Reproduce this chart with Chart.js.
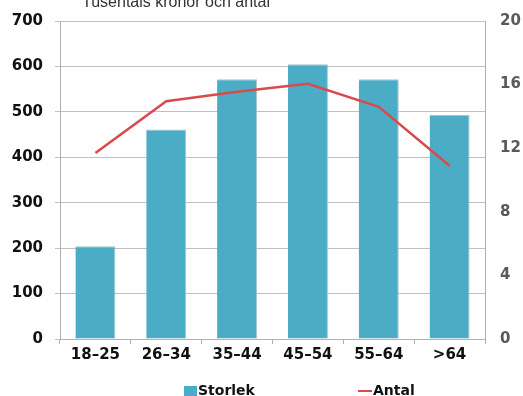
<!DOCTYPE html>
<html>
<head>
<meta charset="utf-8">
<script src="https://cdn.jsdelivr.net/npm/chart.js@4/dist/chart.umd.min.js"></script>
<style>
html,body{margin:0;padding:0;background:#fff;}
#wrap{width:523px;height:396px;position:relative;}
</style>
</head>
<body>
<div id="wrap"><canvas id="c" width="523" height="396"></canvas></div>
<script>
const categories = ["18–25", "26–34", "35–44", "45–54", "55–64", ">64"];
const storlek = [204, 461, 572, 605, 572, 493];
const antal = [11.7, 14.95, 15.55, 16.05, 14.6, 10.9];
const leftTicks = [0, 100, 200, 300, 400, 500, 600, 700];
const rightTicks = [0, 4, 8, 12, 16, 20];
const titleText = "Tusentals kronor och antal";

const FONT = "'DejaVu Sans', sans-serif";

const overlay = {
  id: 'overlay',
  afterDraw(chart) {
    const ctx = chart.ctx;
    ctx.save();
    ctx.fillStyle = '#333';
    ctx.font = "16px 'Liberation Sans', Arial, sans-serif";
    ctx.textAlign = 'left';
    ctx.textBaseline = 'alphabetic';
    ctx.fillText(titleText, 82, 7);
    // legend
    const ds = chart.data.datasets;
    const bar = ds.find(d => d.type === 'bar');
    const line = ds.find(d => d.type === 'line');
    ctx.font = "bold 14px " + FONT;
    ctx.textBaseline = 'middle';
    const ly = 391;
    ctx.fillStyle = bar.backgroundColor;
    ctx.fillRect(184, 386, 13, 13);
    ctx.fillStyle = '#111';
    ctx.fillText(bar.label, 198, ly);
    ctx.strokeStyle = line.borderColor;
    ctx.lineWidth = 2;
    ctx.beginPath();
    ctx.moveTo(358, ly);
    ctx.lineTo(372, ly);
    ctx.stroke();
    ctx.fillStyle = '#111';
    ctx.fillText(line.label, 373, ly);
    ctx.restore();
  }
};

function noPad(s) { s.paddingTop = 0; s.paddingBottom = 0; }

new Chart(document.getElementById('c'), {
  data: {
    labels: categories,
    datasets: [
      {
        type: 'line',
        label: 'Antal',
        data: antal,
        yAxisID: 'y1',
        borderColor: '#D94A4C',
        borderWidth: 2.5,
        pointRadius: 0,
        tension: 0,
        order: 0
      },
      {
        type: 'bar',
        label: 'Storlek',
        data: storlek,
        yAxisID: 'y',
        backgroundColor: '#4BACC6',
        borderColor: '#A9C4CC',
        borderWidth: {top: 1, right: 1, left: 0, bottom: 0},
        categoryPercentage: 1,
        barPercentage: 0.565,
        order: 1
      }
    ]
  },
  options: {
    responsive: false,
    animation: false,
    devicePixelRatio: 1,
    layout: {padding: {top: 21, bottom: 0, left: 0, right: 0}},
    plugins: {legend: {display: false}, title: {display: false}, tooltip: {enabled: false}},
    scales: {
      x: {
        offset: true,
        grid: {offset: true, drawOnChartArea: false, color: '#B0B0B0', tickLength: 5},
        border: {color: '#B0B0B0'},
        ticks: {color: '#111', font: {family: FONT, size: 15, weight: 'bold'}, padding: 2, maxRotation: 0},
        afterFit(s) { s.height = 57; s.paddingLeft = 0; s.paddingRight = 0; }
      },
      y: {
        position: 'left',
        min: 0, max: 700,
        afterBuildTicks(s) { s.ticks = leftTicks.map(v => ({value: v})); },
        grid: {color: '#C0C0C0', lineWidth: 1, tickLength: 5},
        border: {color: '#B0B0B0'},
        ticks: {color: '#111', font: {family: FONT, size: 15, weight: 'bold'}, padding: 12},
        afterFit(s) { s.width = 60; noPad(s); }
      },
      y1: {
        position: 'right',
        min: 0, max: 20,
        afterBuildTicks(s) { s.ticks = rightTicks.map(v => ({value: v})); },
        grid: {drawOnChartArea: false, drawTicks: false},
        border: {color: '#B0B0B0'},
        ticks: {color: '#595959', font: {family: FONT, size: 15, weight: 'bold'}, padding: 15},
        afterFit(s) { s.width = 38; noPad(s); }
      }
    }
  },
  plugins: [overlay]
});
</script>
</body>
</html>
